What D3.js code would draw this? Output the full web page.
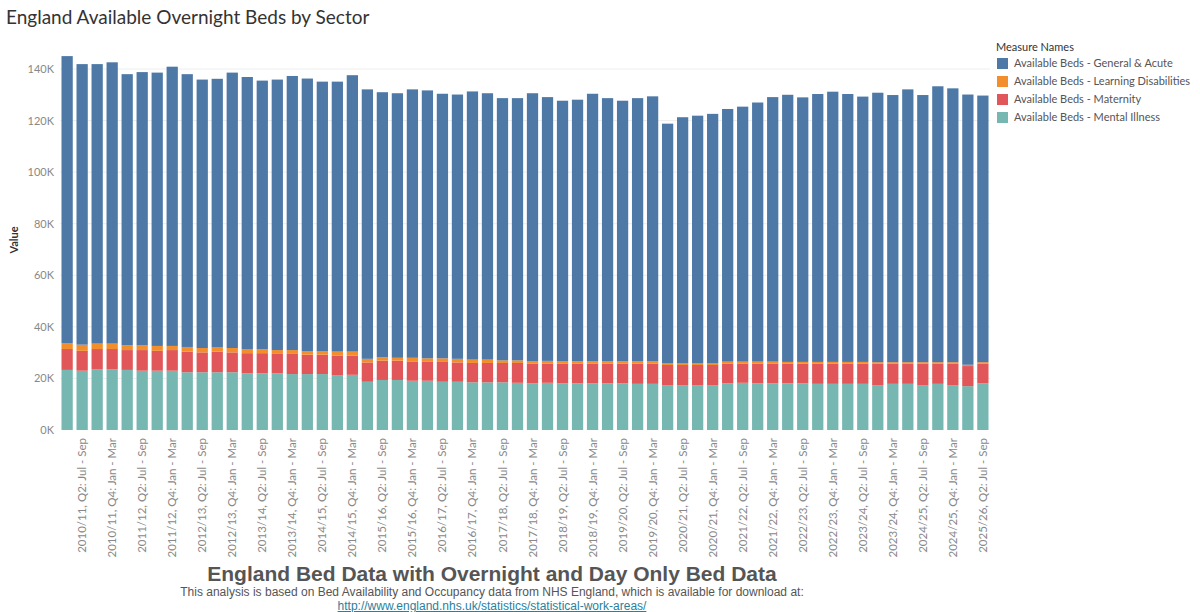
<!DOCTYPE html>
<html>
<head>
<meta charset="utf-8">
<script src="https://cdn.jsdelivr.net/npm/d3@7"></script>
<style>
  body { margin: 0; background: #fff; font-family: "Lato", "Open Sans", sans-serif; }
  .tick text { fill: #888; }
</style>
</head>
<body>
<div id="chart"></div>
<script>
// Financial years / quarters (62 quarters, 2010/11 Q1 to 2025/26 Q2)
var years = ["2010/11","2011/12","2012/13","2013/14","2014/15","2015/16","2016/17","2017/18",
  "2018/19","2019/20","2020/21","2021/22","2022/23","2023/24","2024/25","2025/26"];
var quarters = ["Q1: Apr - Jun","Q2: Jul - Sep","Q3: Oct - Dec","Q4: Jan - Mar"];

// Series values (thousands of beds)
var mentalIllness = [23.3,23.0,23.6,23.6,23.3,23.0,23.0,23.0,22.4,22.4,22.4,22.4,22.0,22.0,22.0,21.7,21.7,21.7,21.3,21.4,
  18.7,19.4,19.4,19.1,19.1,18.7,18.7,18.5,18.5,18.5,18.3,
  18.1,18.3,18.1,18.1,18.1,18.1,18.1,17.9,17.9,17.4,17.4,17.4,17.4,18.1,18.3,18.1,18.1,18.1,18.1,
  17.9,17.9,17.9,17.9,17.4,17.9,17.9,17.4,17.9,17.4,17.0,18.1];
var maternity = [8.1,7.7,7.8,7.8,7.7,8.0,7.7,8.0,8.0,7.7,8.0,7.7,7.8,7.8,7.5,7.8,7.5,7.5,7.6,7.5,
  7.5,7.5,7.5,7.5,7.5,7.7,7.5,7.5,7.5,7.5,7.7,
  7.7,7.5,7.7,7.7,7.7,7.7,7.7,7.9,7.9,7.8,7.8,7.8,7.8,7.7,7.5,7.7,7.7,7.7,7.7,
  7.9,7.9,7.9,7.9,8.4,7.9,7.9,8.4,7.9,8.4,7.8,7.7];
var learningDis = [2.3,2.4,2.1,2.1,1.9,1.8,1.9,1.6,1.8,1.7,1.6,1.7,1.6,1.5,1.5,1.5,1.4,1.4,1.5,1.5,
  1.4,1.3,1.1,1.4,1.2,1.4,1.4,1.3,1.3,1.0,1.0,
  0.9,1.0,0.9,0.9,0.9,0.8,0.8,0.8,0.8,0.6,0.6,0.6,0.6,0.7,0.7,0.7,0.7,0.6,0.6,
  0.6,0.6,0.6,0.6,0.5,0.5,0.5,0.5,0.5,0.5,0.5,0.5];
var generalAcute = [111.3,108.8,108.4,109.1,105.1,106.0,106.0,108.3,105.8,104.1,104.2,106.8,105.5,104.2,104.9,106.3,105.7,104.5,104.7,107.2,
  104.5,102.8,102.6,104.1,103.9,102.6,102.5,104.0,103.3,101.7,101.7,
  103.9,102.3,101.0,101.4,103.7,102.1,101.1,102.1,102.8,93.0,95.5,96.1,96.8,98.0,98.9,100.5,102.6,103.6,102.6,
  103.9,104.8,103.9,102.9,104.5,103.6,105.8,103.6,107.0,106.2,104.8,103.4];

var yTicks = [0,20000,40000,60000,80000,100000,120000,140000];
var seriesNames = ["Available Beds - Mental Illness","Available Beds - Maternity",
  "Available Beds - Learning Disabilities","Available Beds - General & Acute"];
var legendOrder = ["Available Beds - General & Acute","Available Beds - Learning Disabilities",
  "Available Beds - Maternity","Available Beds - Mental Illness"];
var colors = {
  "Available Beds - General & Acute": "#4e79a7",
  "Available Beds - Learning Disabilities": "#f28e2b",
  "Available Beds - Maternity": "#e15759",
  "Available Beds - Mental Illness": "#76b7b2"
};

// Build table
var categories = [];
years.forEach(function(y) { quarters.forEach(function(q) { categories.push(y + ", " + q); }); });
categories = categories.slice(0, generalAcute.length);
var table = categories.map(function(c, i) {
  var row = { cat: c };
  row[seriesNames[0]] = mentalIllness[i] * 1000;
  row[seriesNames[1]] = maternity[i] * 1000;
  row[seriesNames[2]] = learningDis[i] * 1000;
  row[seriesNames[3]] = generalAcute[i] * 1000;
  return row;
});

var svgWidth = 1200, svgHeight = 612;
var svg = d3.select("#chart").append("svg").attr("width", svgWidth).attr("height", svgHeight);

var xScale = d3.scaleBand().domain(categories).range([60, 990]).paddingInner(0.25).paddingOuter(0.1);
var yScale = d3.scaleLinear().domain([0, 140000]).range([430, 69]);

// Title
svg.append("text").attr("x", 6).attr("y", 24).style("font-size", "19px").attr("fill", "#333")
  .text("England Available Overnight Beds by Sector");

// Gridlines
svg.append("g").selectAll("line").data(yTicks.slice(1)).enter().append("line")
  .attr("x1", 60).attr("x2", 990)
  .attr("y1", function(d) { return yScale(d); }).attr("y2", function(d) { return yScale(d); })
  .attr("stroke", "#eee");

// Y axis
var yAxis = d3.axisLeft(yScale).tickValues(yTicks).tickSize(0).tickPadding(6)
  .tickFormat(function(d) { return (d / 1000) + "K"; });
svg.append("g").attr("transform", "translate(60,0)").call(yAxis)
  .call(function(g) { g.select(".domain").remove(); })
  .selectAll("text").style("font-size", "11px").style("font-family", "Lato, sans-serif");

svg.append("text").attr("transform", "rotate(-90)").attr("x", -240).attr("y", 18)
  .attr("text-anchor", "middle").style("font-size", "11px").style("font-weight", "bold")
  .attr("fill", "#333").text("Value");

// Stacked bars
var stacked = d3.stack().keys(seriesNames)(table);
svg.append("g").selectAll("g").data(stacked).enter().append("g")
  .attr("fill", function(s) { return colors[s.key]; })
  .selectAll("rect").data(function(s) { return s; }).enter().append("rect")
  .attr("x", function(d) { return xScale(d.data.cat); })
  .attr("width", xScale.bandwidth())
  .attr("y", function(d) { return yScale(d[1]); })
  .attr("height", function(d) { return yScale(d[0]) - yScale(d[1]); });

// X axis labels (every other quarter)
var xAxis = d3.axisBottom(xScale).tickSize(0)
  .tickValues(categories.filter(function(c, i) { return i % 2 === 1; }));
var xg = svg.append("g").attr("transform", "translate(0,432)").call(xAxis);
xg.select(".domain").remove();
xg.selectAll("text").attr("transform", "rotate(-90)").attr("text-anchor", "end")
  .attr("x", -6).attr("y", 0).attr("dy", "0.35em")
  .style("font-size", "11.5px").style("font-family", "Lato, sans-serif");

// Legend
var legend = svg.append("g").attr("transform", "translate(996,0)");
legend.append("text").attr("x", 0).attr("y", 51).style("font-size", "11px").attr("fill", "#333")
  .text("Measure Names");
legendOrder.forEach(function(name, i) {
  legend.append("rect").attr("x", 1).attr("y", 58 + i * 18).attr("width", 11).attr("height", 11)
    .attr("fill", colors[name]);
  legend.append("text").attr("x", 18).attr("y", 67 + i * 18).style("font-size", "11px")
    .attr("fill", "#555").text(name);
});

// Footer
svg.append("text").attr("x", 492).attr("y", 581).attr("text-anchor", "middle")
  .style("font-family", "Liberation Sans, Arial, sans-serif").style("font-size", "21px")
  .style("font-weight", "bold").attr("fill", "#555")
  .text("England Bed Data with Overnight and Day Only Bed Data");
svg.append("text").attr("x", 492).attr("y", 596).attr("text-anchor", "middle")
  .style("font-family", "Liberation Sans, Arial, sans-serif").style("font-size", "12px")
  .attr("fill", "#555")
  .text("This analysis is based on Bed Availability and Occupancy data from NHS England, which is available for download at:");
svg.append("text").attr("x", 492).attr("y", 610).attr("text-anchor", "middle")
  .style("font-family", "Liberation Sans, Arial, sans-serif").style("font-size", "12px")
  .style("text-decoration", "underline").attr("fill", "#2a7f9e")
  .text("http://www.england.nhs.uk/statistics/statistical-work-areas/");
</script>
</body>
</html>
